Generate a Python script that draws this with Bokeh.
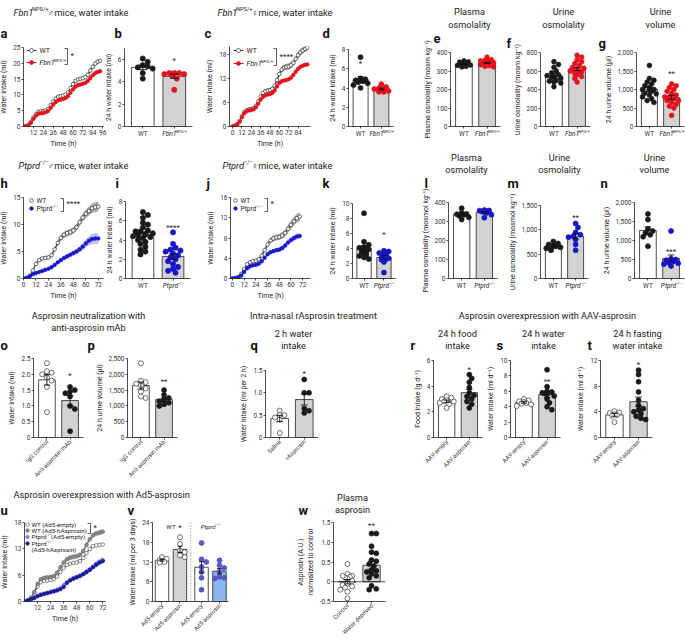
import math
import numpy as np
from bokeh.plotting import figure
from bokeh.models import GridBox, Range1d, Label, FixedTicker, Span, NumeralTickFormatter
from bokeh.embed import file_html
from bokeh.resources import INLINE

FONT = "Roboto"
W, H = 685, 640
BL, BT, BR, BB = 50, 30, 12, 60   # uniform borders (the grid aligns them anyway)

# ---------------- time-series data (cumulative water intake, ml) ----------------
T_A = list(range(0, 94, 3))
A_WT = [0, 0.1, 0.5, 1.5, 2.8, 3.9, 4.6, 4.8, 4.9, 5.1, 5.6, 6.8, 7.9, 8.8, 9.4, 9.6, 9.8, 10.1, 10.8, 12.2,
        13.4, 14.4, 14.9, 15.1, 15.3, 15.6, 16.4, 17.7, 18.9, 19.9, 20.5, 20.8]
A_WT_SEM = [0, 0.05, 0.1, 0.2, 0.3, 0.35, 0.4, 0.4, 0.4, 0.4, 0.45, 0.5, 0.5, 0.5, 0.5, 0.5, 0.5, 0.5, 0.55, 0.6,
            0.6, 0.6, 0.6, 0.6, 0.6, 0.6, 0.65, 0.7, 0.7, 0.7, 0.7, 0.7]
A_MUT = [0, 0.1, 0.4, 1.2, 2.4, 3.4, 4.0, 4.2, 4.3, 4.5, 4.9, 5.9, 6.9, 7.7, 8.3, 8.5, 8.7, 9.0, 9.6, 10.7,
         11.7, 12.6, 13.1, 13.3, 13.5, 13.8, 14.4, 15.3, 16.2, 16.9, 17.3, 17.5]
A_MUT_SEM = [0, 0.05, 0.1, 0.15, 0.25, 0.3, 0.35, 0.35, 0.35, 0.35, 0.4, 0.4, 0.45, 0.45, 0.45, 0.45, 0.45, 0.45,
             0.5, 0.5, 0.5, 0.55, 0.55, 0.55, 0.55, 0.55, 0.55, 0.6, 0.6, 0.6, 0.6, 0.6]

T_C = list(range(0, 97, 3))
C_WT = [0, 0.2, 0.6, 1.4, 2.6, 3.6, 4.1, 4.3, 4.4, 4.6, 5.2, 6.3, 7.5, 8.4, 8.8, 9.0, 9.1, 9.4, 10.2, 11.6,
        13.1, 14.2, 14.7, 14.9, 15.0, 15.3, 15.9, 16.9, 17.8, 18.5, 19.0, 19.4, 19.7]
C_WT_SEM = [0, 0.1, 0.15, 0.2, 0.3, 0.3, 0.35, 0.35, 0.35, 0.4, 0.4, 0.45, 0.5, 0.5, 0.5, 0.5, 0.5, 0.55, 0.6, 0.7,
            0.8, 0.8, 0.8, 0.8, 0.8, 0.8, 0.8, 0.8, 0.8, 0.8, 0.8, 0.8, 0.8]
C_MUT = [0, 0.2, 0.5, 1.2, 2.3, 3.3, 3.8, 4.0, 4.1, 4.3, 4.8, 5.7, 6.7, 7.4, 7.8, 8.0, 8.1, 8.4, 9.0, 10.0,
         10.9, 11.3, 11.5, 11.6, 11.8, 12.2, 12.9, 13.7, 14.4, 14.9, 15.2, 15.4, 15.5]
C_MUT_SEM = [0, 0.05, 0.1, 0.1, 0.15, 0.2, 0.2, 0.2, 0.2, 0.2, 0.2, 0.25, 0.25, 0.25, 0.25, 0.25, 0.25, 0.25,
             0.3, 0.3, 0.3, 0.3, 0.3, 0.3, 0.3, 0.3, 0.3, 0.35, 0.35, 0.35, 0.35, 0.35, 0.35]

T_H = list(range(0, 73, 3))
H_WT = [0, 0.1, 0.5, 1.5, 2.7, 3.4, 3.7, 3.8, 3.9, 4.3, 5.4, 6.6, 7.5, 8.1, 8.4, 8.6, 8.9, 9.5, 10.4, 11.3,
        12.0, 12.5, 13.0, 13.2, 13.3]
H_WT_SEM = [0, 0.05, 0.1, 0.2, 0.3, 0.3, 0.35, 0.35, 0.35, 0.4, 0.45, 0.5, 0.55, 0.6, 0.6, 0.6, 0.6, 0.65, 0.7,
            0.75, 0.8, 0.85, 0.9, 0.9, 0.9]
H_MUT = [0, 0.1, 0.4, 0.8, 1.0, 1.2, 1.4, 1.6, 1.8, 2.1, 2.5, 3.0, 3.4, 3.8, 4.1, 4.4, 4.7, 5.0, 5.4, 5.9,
         6.5, 7.0, 7.3, 7.4, 7.4]
H_MUT_SEM = [0, 0.05, 0.05, 0.1, 0.1, 0.15, 0.15, 0.15, 0.2, 0.2, 0.25, 0.3, 0.3, 0.35, 0.4, 0.4, 0.45, 0.5,
             0.55, 0.65, 0.75, 0.85, 0.95, 1.0, 1.0]

T_J = list(range(0, 70, 3))
J_WT = [0, 0.1, 0.3, 0.9, 1.9, 2.8, 3.2, 3.4, 3.5, 3.8, 4.5, 5.6, 6.7, 7.5, 7.9, 8.1, 8.2, 8.5, 9.0, 9.8,
        10.6, 11.3, 11.9, 12.2]
J_WT_SEM = [0, 0.05, 0.1, 0.15, 0.25, 0.3, 0.35, 0.35, 0.35, 0.4, 0.45, 0.5, 0.55, 0.6, 0.6, 0.6, 0.6, 0.65,
            0.7, 0.75, 0.8, 0.85, 0.9, 0.9]
J_MUT = [0, 0.1, 0.2, 0.6, 1.3, 2.0, 2.4, 2.6, 2.7, 2.9, 3.4, 4.1, 4.8, 5.2, 5.4, 5.6, 5.7, 6.0, 6.5, 7.1,
         7.6, 8.0, 8.3, 8.4]
J_MUT_SEM = [0, 0.05, 0.05, 0.1, 0.15, 0.2, 0.25, 0.25, 0.25, 0.3, 0.3, 0.35, 0.4, 0.4, 0.4, 0.4, 0.45, 0.45,
             0.5, 0.5, 0.55, 0.6, 0.6, 0.6]

T_U = list(range(0, 73, 3))
U_WT_EMPTY = [0, 0.3, 0.8, 1.9, 3.4, 4.4, 4.7, 4.8, 4.9, 5.1, 5.7, 6.7, 7.6, 8.3, 8.6, 8.8, 8.9, 9.2, 9.9, 11.0,
              12.0, 12.6, 12.8, 12.9, 13.0]
U_WT_EMPTY_SEM = [0, 0.05, 0.1, 0.15, 0.2, 0.25, 0.25, 0.25, 0.25, 0.25, 0.25, 0.3, 0.3, 0.3, 0.3, 0.3, 0.3, 0.3,
                  0.3, 0.35, 0.35, 0.35, 0.35, 0.35, 0.35]
U_WT_ASP = [0, 0.3, 0.9, 2.2, 4.0, 5.1, 5.4, 5.5, 5.6, 5.8, 6.6, 7.8, 8.9, 9.6, 10.0, 10.2, 10.3, 10.6, 11.5, 12.9,
            14.2, 15.1, 15.5, 15.7, 15.9]
U_WT_ASP_SEM = [0, 0.1, 0.15, 0.25, 0.35, 0.4, 0.4, 0.4, 0.4, 0.45, 0.45, 0.5, 0.5, 0.5, 0.55, 0.55, 0.55, 0.6,
                0.6, 0.6, 0.65, 0.65, 0.65, 0.65, 0.65]
U_KO_EMPTY = [0, 0.2, 0.5, 0.9, 1.3, 1.6, 1.8, 2.0, 2.2, 2.4, 2.7, 3.0, 3.8, 4.4, 4.9, 5.3, 5.6, 5.9, 6.3, 6.8,
              7.3, 7.9, 8.5, 9.0, 9.4]
U_KO_EMPTY_SEM = [0, 0.05, 0.1, 0.15, 0.2, 0.2, 0.25, 0.25, 0.25, 0.3, 0.3, 0.35, 0.35, 0.4, 0.45, 0.5, 0.5, 0.55,
                  0.6, 0.65, 0.7, 0.75, 0.8, 0.8, 0.8]
U_KO_ASP = [0, 0.2, 0.5, 0.8, 1.2, 1.5, 1.7, 1.9, 2.1, 2.3, 2.5, 2.8, 3.3, 4.2, 4.8, 5.2, 5.5, 5.8, 6.2, 6.7,
            7.2, 7.8, 8.4, 8.9, 9.2]
U_KO_ASP_SEM = [0, 0.05, 0.05, 0.1, 0.1, 0.15, 0.15, 0.15, 0.2, 0.2, 0.2, 0.25, 0.25, 0.3, 0.3, 0.3, 0.35, 0.35,
                0.35, 0.4, 0.4, 0.45, 0.45, 0.5, 0.5]

# ---------------- individual-animal data ----------------
B_WT = [6.1, 5.8, 5.5, 5.4, 5.3, 5.2, 4.8, 4.3]
B_MUT = [4.8, 4.8, 4.7, 4.7, 4.8, 4.6, 4.3, 3.3]
D_WT = [7.2, 5.0, 4.9, 4.8, 4.7, 4.6, 4.5, 4.3, 4.0]
D_MUT = [4.4, 4.1, 4.0, 3.9, 3.9, 3.8, 3.7, 3.6, 3.6]
E_WT = [355, 350, 348, 345, 343, 340, 340, 338, 336, 335, 334, 332, 330, 328, 325, 322, 340, 345]
E_MUT = [375, 362, 358, 355, 352, 350, 348, 345, 345, 342, 340, 340, 338, 335, 333, 330, 328, 325, 322, 350, 345, 342]
F_WT = [700, 670, 640, 600, 580, 560, 550, 540, 530, 520, 500, 490, 480, 470, 430]
F_MUT = [770, 750, 720, 700, 680, 660, 640, 630, 620, 610, 600, 600, 590, 580, 570, 560, 540, 520, 480]
G_WT = [1650, 1300, 1250, 1200, 1150, 1100, 1050, 1000, 1000, 980, 950, 900, 880, 850, 800, 750, 700, 650]
G_MUT = [1150, 1100, 1050, 1000, 950, 900, 850, 800, 800, 750, 700, 700, 650, 600, 550, 500, 300]
I_WT = [6.9, 6.6, 6.3, 5.8, 5.6, 5.3, 5.0, 4.9, 4.7, 4.5, 4.4, 4.3, 4.2, 4.0, 3.8, 3.6, 3.3, 3.0, 2.8, 2.5, 4.6, 4.9]
I_MUT = [4.8, 3.6, 3.2, 3.0, 2.8, 2.6, 2.4, 2.2, 2.0, 1.8, 1.5, 1.2, 1.0, 0.8, 0.6, 2.9]
K_WT = [8.7, 4.9, 4.5, 4.2, 4.0, 3.9, 3.8, 3.7, 3.6, 3.5, 3.4, 3.2, 3.0, 2.8, 2.6, 4.1, 3.9]
K_MUT = [3.7, 3.6, 3.4, 3.3, 3.2, 2.8, 2.7, 2.6, 2.5, 2.2, 0.8]
L_WT = [370, 345, 340, 338, 335, 330, 322, 310]
L_MUT = [360, 358, 357, 355, 353, 352, 350, 345, 335, 320]
M_WT = [760, 720, 700, 680, 660, 640, 620, 600, 580]
M_MUT = [1130, 1050, 950, 900, 870, 850, 800, 700, 580]
N_WT = [1700, 1550, 1300, 1250, 1200, 1150, 1100, 850]
N_MUT = [1250, 520, 500, 480, 450, 420, 400, 380, 330]
O_IGG = [2.35, 2.1, 2.05, 2.0, 1.9, 1.8, 1.6, 0.8]
O_MAB = [1.6, 1.5, 1.45, 1.4, 1.3, 1.0, 0.9, 0.2]
P_IGG = [2350, 1800, 1750, 1700, 1650, 1550, 1450, 1300, 1250]
P_MAB = [1500, 1350, 1250, 1200, 1150, 1100, 1050, 1000]
Q_SALINE = [0.6, 0.5, 0.5, 0.45, 0.4, 0.1]
Q_RASP = [1.3, 1.0, 1.0, 0.65, 0.6, 0.55]
R_EMPTY = [3.2, 3.1, 3.0, 2.9, 2.8, 2.8, 2.7, 2.6, 2.3]
R_ASP = [4.9, 4.6, 4.3, 3.9, 3.5, 3.3, 3.2, 3.0, 2.8, 2.6, 2.3]
S_EMPTY = [5.0, 4.8, 4.7, 4.6, 4.5, 4.4, 4.3, 4.1]
S_ASP = [8.8, 6.6, 6.0, 5.9, 5.8, 5.7, 5.6, 5.4, 5.0, 4.5, 4.0, 3.6]
TT_EMPTY = [4.1, 3.9, 3.8, 3.6, 3.5, 3.4, 2.4]
TT_ASP = [10.5, 9.8, 8.7, 7.1, 5.8, 5.0, 4.5, 4.3, 4.0, 3.7, 3.3, 3.0, 2.8]
V_WT_EMPTY = [13.5, 13.0, 12.5, 12.3, 12.0, 11.8]
V_WT_ASP = [19.5, 17.5, 15.5, 15.0, 14.0, 13.5]
V_KO_EMPTY = [17.8, 12.8, 12.0, 10.5, 9.0, 7.2, 3.6]
V_KO_ASP = [12.5, 11.0, 10.2, 9.0, 7.5, 7.0, 7.2]
W_CONTROL = [0.45, 0.2, 0.15, 0.12, 0.08, 0.02, -0.05, -0.08, -0.12, -0.15, -0.2, -0.25, -0.42, 0.1, 0.15]
W_DEPRIVED = [1.22, 1.22, 0.9, 0.75, 0.72, 0.55, 0.52, 0.45, 0.4, 0.3, 0.28, 0.25, 0.2, 0.15, 0.1, -0.1, -0.18, -0.2]

V_LABELS = ["Ad5-empty", "Ad5-asprosin", "Ad5-empty", "Ad5-asprosin"]

# ---------------- colours ----------------
BLACK = "#1a1a1a"
RED = "#e3121b"
BLUE = "#1616c8"
GREYBAR = "#d2d2d2"

panels = []
META = {}


def make_panel(box, xr, yr):
    x0, y0, x1, y1 = box
    p = figure(frame_width=x1 - x0, frame_height=y1 - y0,
               x_range=Range1d(*xr), y_range=Range1d(*yr),
               min_border_left=BL, min_border_right=BR, min_border_top=BT, min_border_bottom=BB,
               output_backend="svg", toolbar_location=None, tools="",
               background_fill_color=None, border_fill_color=None, outline_line_color=None)
    p.margin = (y0 - BT, 0, 0, x0 - BL)
    p.xgrid.visible = False
    p.ygrid.visible = False
    for ax in (p.xaxis[0], p.yaxis[0]):
        ax.axis_line_color = "#222"
        ax.axis_line_width = 0.8
        ax.major_tick_line_color = "#222"
        ax.major_tick_line_width = 0.8
        ax.major_tick_in = 0
        ax.major_tick_out = 2
        ax.minor_tick_line_color = None
        ax.major_label_text_font = FONT
        ax.major_label_text_font_size = "6.5px"
        ax.major_label_text_color = "#333"
        ax.major_label_standoff = 1
        ax.axis_label_text_font = FONT
        ax.axis_label_text_font_size = "7px"
        ax.axis_label_text_font_style = "normal"
        ax.axis_label_text_color = "#222"
        ax.axis_label_standoff = 2
    META[id(p)] = (box, xr, yr)
    panels.append(p)
    return p


def to_data(p, px, py):
    (x0, y0, x1, y1), xr, yr = META[id(p)]
    return (xr[0] + (px - x0) / (x1 - x0) * (xr[1] - xr[0]),
            yr[1] - (py - y0) / (y1 - y0) * (yr[1] - yr[0]))


def swarm(vals, ppx, ppy, d, maxhalf):
    vals = np.asarray(vals, float)
    order = np.argsort(-vals)
    placed = []
    offs = np.zeros(len(vals))
    cands = [0.0]
    for j in range(1, 14):
        cands += [j * d * 0.5, -j * d * 0.5]
    for i in order:
        y = vals[i] * ppy
        chosen = None
        for c in cands:
            if abs(c) > maxhalf:
                continue
            if all((c - px) ** 2 + (y - py) ** 2 >= (d * 0.85) ** 2 for px, py in placed):
                chosen = c
                break
        if chosen is None:
            chosen = cands[len(placed) % 3]
        placed.append((chosen, y))
        offs[i] = chosen / ppx
    return offs


def bar_panel(box, yr, yticks, xpos, groups, ylabel, xlabels, xlim=(-0.58, 1.58), bw=0.72,
              fmt=None, rotate=False, psize=5.2, capw=0.14):
    p = make_panel(box, xlim, yr)
    ppx = (box[2] - box[0]) / (xlim[1] - xlim[0])
    ppy = (box[3] - box[1]) / (yr[1] - yr[0])
    stats = []
    for x, g in zip(xpos, groups):
        v = np.asarray(g["vals"], float)
        m = v.mean()
        se = v.std(ddof=1) / math.sqrt(len(v))
        stats.append((m, se))
        p.vbar(x=[x], top=[m], bottom=[0], width=bw, fill_color=g["bar"], line_color="#222", line_width=0.8)
    for x, g in zip(xpos, groups):
        v = np.asarray(g["vals"], float)
        offs = swarm(v, ppx, ppy, psize * 0.95, bw * 0.48 * ppx)
        p.scatter(x=list(x + offs), y=list(v), size=psize, fill_color=g["fill"], line_color=g["line"],
                  line_width=0.7)
    for x, (m, se) in zip(xpos, stats):
        p.segment(x0=[x], y0=[m - se], x1=[x], y1=[m + se], line_color="#111", line_width=0.9)
        p.segment(x0=[x - capw, x - capw], y0=[m - se, m + se], x1=[x + capw, x + capw], y1=[m - se, m + se],
                  line_color="#111", line_width=0.9)
    p.xaxis.ticker = FixedTicker(ticks=list(xpos))
    p.xaxis.major_label_overrides = dict(zip(xpos, xlabels))
    p.yaxis.ticker = FixedTicker(ticks=yticks)
    p.yaxis.axis_label = ylabel
    if fmt is not None:
        p.yaxis.formatter = NumeralTickFormatter(format=fmt)
        if fmt == "0.0":
            p.yaxis.major_label_overrides = {0: "0"}
    if rotate:
        p.xaxis.major_label_orientation = math.pi / 4
        p.xaxis.major_label_text_font_size = "6px"
    return p


def star(p, x, y, s):
    p.add_layout(Label(x=x, y=y, text=s, text_align="center", text_baseline="middle", text_font=FONT,
                       text_font_size="8px", text_color="#222"))


def ts_panel(box, xr, yr, xticks, yticks, ylabel, series):
    p = make_panel(box, xr, yr)
    for t, m, s, c, fc, band, ba in series:
        lo = [a - b for a, b in zip(m, s)]
        hi = [a + b for a, b in zip(m, s)]
        p.varea(x=t, y1=lo, y2=hi, fill_color=band, fill_alpha=ba)
    for t, m, s, c, fc, band, ba in series:
        p.line(t, m, line_color=c, line_width=1)
        p.scatter(t, m, size=3.6, line_color=c, fill_color=fc, line_width=0.7)
    p.xaxis.ticker = FixedTicker(ticks=xticks)
    p.yaxis.ticker = FixedTicker(ticks=yticks)
    p.xaxis.axis_label = "Time (h)"
    p.yaxis.axis_label = ylabel
    return p


def swatch(p, px, py, color, fill, with_line=True, size=4):
    """legend sample drawn in a panel, positioned in page pixels"""
    if with_line:
        xa, ya = to_data(p, px - 5, py)
        xb, _ = to_data(p, px + 5, py)
        p.segment(x0=[xa], y0=[ya], x1=[xb], y1=[ya], line_color=color, line_width=1)
    xm, ym = to_data(p, px, py)
    p.scatter(x=[xm], y=[ym], size=size, fill_color=fill, line_color=color, line_width=0.7)


def bracket(p, px, ptop, pbot):
    xa, ya = to_data(p, px - 3, ptop)
    xb, yb = to_data(p, px, pbot)
    p.segment(x0=[xb, xa, xa], y0=[ya, ya, yb], x1=[xb, xb, xb], y1=[yb, ya, yb],
              line_color="#333", line_width=0.8)


def pagex(box, xlim, x):
    return box[0] + (x - xlim[0]) / (xlim[1] - xlim[0]) * (box[2] - box[0])


# ---------------- overlay for free text: not frame-aligned, its frame is the whole page ----------------
ov = figure(width=W, height=H, x_range=Range1d(0, W), y_range=Range1d(H, 0),
            min_border_left=0, min_border_right=0, min_border_top=0, min_border_bottom=0,
            frame_align=False,
            output_backend="svg", toolbar_location=None, tools="",
            background_fill_color=None, border_fill_color=None, outline_line_color=None,
            x_axis_type=None, y_axis_type=None)
ov.grid.visible = False


def T(x, y, s, size=9.0, align="left", style="normal", color="#222"):
    ov.add_layout(Label(x=x, y=y, text=s, text_font=FONT, text_font_size=f"{size}px", text_align=align,
                        text_baseline="middle", text_font_style=style, text_color=color))


def tw(s, size):
    w = 0.0
    for ch in s:
        if ch in "iljtf.,:;'|!I1 ()/-[]r":
            w += 0.30
        elif ch in "mwMW\u2642\u2640":
            w += 0.82
        elif ch.isupper():
            w += 0.64
        elif ch.isdigit():
            w += 0.56
        else:
            w += 0.53
    return w * size


def rich(x, y, parts, size, align="left"):
    ss = size * 0.62
    total = sum(tw(t, ss if k == "s" else size) for t, k in parts)
    if align == "center":
        x -= total / 2
    for t, k in parts:
        if k == "s":
            T(x, y - size * 0.35, t, ss)
            x += tw(t, ss)
        else:
            T(x, y, t, size, style="italic" if k == "i" else "normal")
            x += tw(t, size)


def letter(x, y, s):
    T(x, y, s, 13, style="bold", color="#111")


FBN = [("Fbn1", "i"), ("NPS/+", "s")]
PTP = [("Ptprd", "i"), ("\u2212/\u2212", "s")]

# ======================= ROW 1 =======================
BOX_A = (23, 47, 103, 126)
pa = ts_panel(BOX_A, (0, 97), (0, 25), [12, 24, 36, 48, 60, 72, 84, 96], [0, 5, 10, 15, 20, 25],
              "Water intake (ml)",
              [(T_A, A_WT, A_WT_SEM, "#333", "white", "#666", 0.55),
               (T_A, A_MUT, A_MUT_SEM, RED, RED, RED, 0.35)])

BOX_B = (124, 48, 192, 126)
pb = bar_panel(BOX_B, (0, 7), [0, 2, 4, 6], [0, 1],
               [dict(vals=B_WT, bar="white", fill=BLACK, line=BLACK),
                dict(vals=B_MUT, bar=GREYBAR, fill=RED, line=RED)],
               "24 h water intake (ml)", ["WT", ""])
star(pb, 1, 5.9, "*")

BOX_C = (229, 46, 310, 126)
pc = ts_panel(BOX_C, (-4, 100), (0, 20), [0, 12, 24, 36, 48, 60, 72, 84], [0, 6, 12, 18], "Water intake (ml)",
              [(T_C, C_WT, C_WT_SEM, "#333", "white", "#666", 0.55),
               (T_C, C_MUT, C_MUT_SEM, RED, RED, RED, 0.35)])

BOX_D = (348, 49, 393, 126)
pd_ = bar_panel(BOX_D, (0, 8), [0, 2, 4, 6, 8], [0, 1],
                [dict(vals=D_WT, bar="white", fill=BLACK, line=BLACK),
                 dict(vals=D_MUT, bar=GREYBAR, fill=RED, line=RED)],
                "24 h water intake (ml)", ["WT", ""], psize=5)
star(pd_, 0, 6.5, "*")

BOX_E = (450, 52, 500, 126)
bar_panel(BOX_E, (0, 400), [0, 100, 200, 300, 400], [0, 1],
          [dict(vals=E_WT, bar="white", fill=BLACK, line=BLACK),
           dict(vals=E_MUT, bar=GREYBAR, fill=RED, line=RED)],
          "Plasma osmolality (mosm kg\u207b\u00b9)", ["WT", ""], psize=4.6)

BOX_F = (540, 52, 590, 126)
pf = bar_panel(BOX_F, (0, 800), [0, 200, 400, 600, 800], [0, 1],
               [dict(vals=F_WT, bar="white", fill=BLACK, line=BLACK),
                dict(vals=F_MUT, bar=GREYBAR, fill=RED, line=RED)],
               "Urine osmolality (mosm kg\u207b\u00b9)", ["WT", ""], psize=4.8)
star(pf, 1, 805, "*")

BOX_G = (636, 52, 684, 126)
pg = bar_panel(BOX_G, (0, 2000), [0, 500, 1000, 1500, 2000], [0, 1],
               [dict(vals=G_WT, bar="white", fill=BLACK, line=BLACK),
                dict(vals=G_MUT, bar=GREYBAR, fill=RED, line=RED)],
               "24 h urine volume (\u00b5l)", ["WT", ""], fmt="0,0", psize=4.8)
star(pg, 1, 1420, "**")

# ======================= ROW 2 =======================
BOX_H = (23, 197, 103, 278)
ph = ts_panel(BOX_H, (0, 77), (0, 15), [0, 12, 24, 36, 48, 60, 72], [0, 5, 10, 15], "Water intake (ml)",
              [(T_H, H_WT, H_WT_SEM, "#333", "white", "#666", 0.55),
               (T_H, H_MUT, H_MUT_SEM, BLUE, BLUE, "#4a4aff", 0.35)])

BOX_I = (125, 201, 190, 278)
pi_ = bar_panel(BOX_I, (0, 8), [0, 2, 4, 6, 8], [0, 1],
                [dict(vals=I_WT, bar="white", fill=BLACK, line=BLACK),
                 dict(vals=I_MUT, bar=GREYBAR, fill=BLUE, line=BLUE)],
                "24 h water intake (ml)", ["WT", ""])
star(pi_, 1, 5.35, "****")

BOX_J = (230, 197, 310, 278)
pj = ts_panel(BOX_J, (-2, 80), (0, 16), [0, 12, 24, 36, 48, 60, 72], [0, 4, 8, 12, 16], "Water intake (ml)",
              [(T_J, J_WT, J_WT_SEM, "#333", "white", "#666", 0.55),
               (T_J, J_MUT, J_MUT_SEM, BLUE, BLUE, "#4a4aff", 0.35)])

BOX_K = (352, 203, 395, 278)
pk = bar_panel(BOX_K, (0, 10), [0, 2, 4, 6, 8, 10], [0, 1],
               [dict(vals=K_WT, bar="white", fill=BLACK, line=BLACK),
                dict(vals=K_MUT, bar=GREYBAR, fill=BLUE, line=BLUE)],
               "24 h water intake (ml)", ["WT", ""], psize=5)
star(pk, 1, 5.9, "*")

BOX_L = (448, 202, 497, 278)
bar_panel(BOX_L, (0, 400), [0, 100, 200, 300, 400], [0, 1],
          [dict(vals=L_WT, bar="white", fill=BLACK, line=BLACK),
           dict(vals=L_MUT, bar=GREYBAR, fill=BLUE, line=BLUE)],
          "Plasma osmolality (mosmol kg\u207b\u00b9)", ["WT", ""], psize=5)

BOX_M = (540, 205, 588, 278)
pm = bar_panel(BOX_M, (0, 1500), [0, 500, 1000, 1500], [0, 1],
               [dict(vals=M_WT, bar="white", fill=BLACK, line=BLACK),
                dict(vals=M_MUT, bar=GREYBAR, fill=BLUE, line=BLUE)],
               "Urine osmolality (mosmol kg\u207b\u00b9)", ["WT", ""], fmt="0,0", psize=5)
star(pm, 1, 1250, "**")

BOX_N = (634, 202, 684, 278)
pn = bar_panel(BOX_N, (0, 2000), [0, 500, 1000, 1500, 2000], [0, 1],
               [dict(vals=N_WT, bar="white", fill=BLACK, line=BLACK),
                dict(vals=N_MUT, bar=GREYBAR, fill=BLUE, line=BLUE)],
               "24 h urine volume (\u00b5l)", ["WT", ""], fmt="0,0", psize=5)
star(pn, 1, 700, "***")

# ======================= ROW 3 =======================
OPEN = dict(fill="white", line="#333")
FILLED = dict(fill=BLACK, line=BLACK)

BOX_O = (33, 358, 83, 437)
po = bar_panel(BOX_O, (0, 2.5), [0, 0.5, 1, 1.5, 2, 2.5], [0, 1],
               [dict(vals=O_IGG, bar="white", **OPEN), dict(vals=O_MAB, bar=GREYBAR, **FILLED)],
               "Water intake (ml)", ["IgG control", "Anti-asprosin mAb"], fmt="0.0", rotate=True, psize=5)
star(po, 1, 1.95, "*")

BOX_P = (127, 358, 177, 437)
pp = bar_panel(BOX_P, (0, 2500), [0, 500, 1000, 1500, 2000, 2500], [0, 1],
               [dict(vals=P_IGG, bar="white", **OPEN), dict(vals=P_MAB, bar=GREYBAR, **FILLED)],
               "24 h urine volume (\u00b5l)", ["IgG control", "Anti-asprosin mAb"], fmt="0,0", rotate=True, psize=5)
star(pp, 1, 1780, "**")

BOX_Q = (265, 370, 318, 437)
pq = bar_panel(BOX_Q, (0, 1.5), [0, 0.5, 1, 1.5], [0, 1],
               [dict(vals=Q_SALINE, bar="white", **OPEN), dict(vals=Q_RASP, bar=GREYBAR, **FILLED)],
               "Water intake (ml per 2 h)", ["Saline", "rAsprosin"], fmt="0.0", rotate=True, psize=5)
star(pq, 1, 1.44, "*")

BOX_R = (433, 360, 482, 437)
pr = bar_panel(BOX_R, (0, 6), [0, 2, 4, 6], [0, 1],
               [dict(vals=R_EMPTY, bar="white", **OPEN), dict(vals=R_ASP, bar=GREYBAR, **FILLED)],
               "Food intake (g d\u207b\u00b9)", ["AAV-empty", "AAV-asprosin"], rotate=True, psize=5)
star(pr, 1, 5.3, "*")

BOX_S = (510, 360, 560, 437)
ps = bar_panel(BOX_S, (0, 10), [0, 2, 4, 6, 8, 10], [0, 1],
               [dict(vals=S_EMPTY, bar="white", **OPEN), dict(vals=S_ASP, bar=GREYBAR, **FILLED)],
               "Water intake (ml d\u207b\u00b9)", ["AAV-empty", "AAV-asprosin"], rotate=True, psize=5)
star(ps, 1, 7.3, "**")

BOX_T = (600, 360, 652, 437)
pt = bar_panel(BOX_T, (0, 12), [0, 4, 8, 12], [0, 1],
               [dict(vals=TT_EMPTY, bar="white", **OPEN), dict(vals=TT_ASP, bar=GREYBAR, **FILLED)],
               "Water intake (ml d\u207b\u00b9)", ["AAV-empty", "AAV-asprosin"], rotate=True, psize=5)
star(pt, 1, 11.3, "*")

# ======================= ROW 4 =======================
BOX_U = (24, 522, 105, 601)
U_COLS = [("#555", "white", "#999", 0.5), ("#666", "#8c8c8c", "#aaa", 0.6),
          ("#7a7ae6", "#8c8cf0", "#a8a8f4", 0.55), ("#1a1a96", "#1a1a96", "#3c3cc8", 0.35)]
pu = ts_panel(BOX_U, (0, 74.5), (0, 18), [12, 24, 36, 48, 60, 72], [0, 6, 12, 18], "Water intake (ml)",
              [(T_U, U_WT_EMPTY, U_WT_EMPTY_SEM) + U_COLS[0],
               (T_U, U_WT_ASP, U_WT_ASP_SEM) + U_COLS[1],
               (T_U, U_KO_EMPTY, U_KO_EMPTY_SEM) + U_COLS[2],
               (T_U, U_KO_ASP, U_KO_ASP_SEM) + U_COLS[3]])

BOX_V = (152, 522, 228, 601)
VPOS = [0, 5, 11, 16]
pv = bar_panel(BOX_V, (0, 24), [0, 6, 12, 18, 24], VPOS,
               [dict(vals=V_WT_EMPTY, bar="white", **OPEN),
                dict(vals=V_WT_ASP, bar=GREYBAR, **OPEN),
                dict(vals=V_KO_EMPTY, bar="white", fill="#5656c4", line="#5656c4"),
                dict(vals=V_KO_ASP, bar="#8ab8ee", fill="#5656c4", line="#5656c4")],
               "Water intake (ml per 3 days)", V_LABELS, xlim=(-2.64, 18.5), bw=3.75, rotate=True,
               psize=5, capw=0.7)
pv.add_layout(Span(location=8, dimension="height", line_color="#777", line_dash="1 2", line_width=1))
star(pv, 5, 22.6, "*")

BOX_W = (333, 522, 385, 601)
pw = bar_panel(BOX_W, (-0.5, 1.5), [-0.5, 0, 0.5, 1, 1.5], [0, 1],
               [dict(vals=W_CONTROL, bar="white", **OPEN), dict(vals=W_DEPRIVED, bar=GREYBAR, **FILLED)],
               "Asprosin (A.U.)\nnormalized to control", ["Control", "Water deprived"], fmt="0.0",
               rotate=True, psize=5)
pw.add_layout(Span(location=0, dimension="width", line_color="#222", line_width=0.8))
star(pw, 1, 1.42, "**")

# ======================= LEGENDS (samples drawn inside their panels) =======================
LS = 7.0
swatch(pa, 31, 50, "#333", "white")
swatch(pa, 31, 62, RED, RED)
bracket(pa, 67, 48, 64)
swatch(pc, 238, 50, "#333", "white")
swatch(pc, 238, 63, RED, RED)
bracket(pc, 276, 48, 65)
for p_, x0 in [(ph, 31), (pj, 235)]:
    swatch(p_, x0, 200, "#333", "white", with_line=False, size=3.6)
    swatch(p_, x0, 208, BLUE, BLUE, with_line=False, size=3.6)
bracket(ph, 63, 198, 211)
bracket(pj, 267, 198, 211)
for k, yy in enumerate([524, 530, 536.5, 543]):
    swatch(pu, 27, yy, U_COLS[k][0], U_COLS[k][1], with_line=False, size=3.6)
bracket(pu, 90, 523, 533)

# ======================= TEXT OVERLAY =======================
TS = 9.2
rich(13, 12, [("Fbn1", "i"), ("NPS/+", "s"), ("\u2642mice, water intake", "n")], TS)
rich(217, 12, [("Fbn1", "i"), ("NPS/+", "s"), ("\u2640mice, water intake", "n")], TS)
for cx, l1, l2 in [(469, "Plasma", "osmolality"), (563, "Urine", "osmolality"), (660, "Urine", "volume")]:
    T(cx, 11, l1, TS, "center")
    T(cx, 24, l2, TS, "center")
rich(18, 165, [("Ptprd", "i"), ("\u2212/\u2212", "s"), ("\u2642mice, water intake", "n")], TS)
rich(222, 165, [("Ptprd", "i"), ("\u2212/\u2212", "s"), ("\u2640mice, water intake", "n")], TS)
for cx, l1, l2 in [(466, "Plasma", "osmolality"), (559, "Urine", "osmolality"), (654, "Urine", "volume")]:
    T(cx, 157, l1, TS, "center")
    T(cx, 169, l2, TS, "center")
T(88, 315, "Asprosin neutralization with", TS, "center")
T(88, 327, "anti-asprosin mAb", TS, "center")
T(313, 315, "Intra-nasal rAsprosin treatment", TS, "center")
T(547, 315, "Asprosin overexpression with AAV-asprosin", TS, "center")
for cx, l1, l2 in [(293, "2 h water", "intake"), (457, "24 h food", "intake"),
                   (543, "24 h water", "intake"), (637, "24 h fasting", "water intake")]:
    T(cx, 333, l1, TS, "center")
    T(cx, 345, l2, TS, "center")
T(13, 494, "Asprosin overexpression with Ad5-asprosin", TS)
T(352, 497, "Plasma", TS, "center")
T(352, 509, "asprosin", TS, "center")

for s, x, y in [("a", 0, 33), ("b", 114, 33), ("c", 204, 33), ("d", 322, 33), ("e", 433, 38), ("f", 506, 43),
                ("g", 598, 43), ("h", 0, 183), ("i", 115, 183), ("j", 206, 183), ("k", 322, 183),
                ("l", 424, 183), ("m", 507, 183), ("n", 600, 183), ("o", 0, 345), ("p", 87, 345),
                ("q", 250, 345), ("r", 410, 345), ("s", 496, 345), ("t", 587, 345), ("u", 0, 510),
                ("v", 127, 510), ("w", 298, 510)]:
    letter(x, y, s)

for box, parts in [(BOX_B, FBN), (BOX_D, FBN), (BOX_E, FBN), (BOX_F, FBN), (BOX_G, FBN),
                   (BOX_I, PTP), (BOX_K, PTP), (BOX_L, PTP), (BOX_M, PTP), (BOX_N, PTP)]:
    rich(pagex(box, (-0.58, 1.58), 1), box[3] + 7, parts, 6.5, "center")

T(39, 50, "WT", LS)
rich(39, 62, FBN, LS)
T(70, 55, "*", 8)
T(246, 50, "WT", LS)
rich(246, 63, FBN, LS)
T(279, 56, "****", 8)
for x0, bx, sig in [(31, 63, "****"), (235, 267, "*")]:
    T(x0 + 5, 200, "WT", 6.5)
    rich(x0 + 5, 208, [("Ptprd", "n"), ("\u2212/\u2212", "s")], 6.5)
    T(bx + 3, 203, sig, 8)
T(31, 524, "WT (Ad5-empty)", 6.2)
T(31, 530, "WT (Ad5-hAsprosin)", 6.2)
rich(31, 536.5, [("Ptprd", "n"), ("\u2212/\u2212", "s"), (" (Ad5-empty)", "n")], 6.2)
rich(31, 543, [("Ptprd", "n"), ("\u2212/\u2212", "s")], 6.2)
T(31, 549.5, "(Ad5-hAsprosin)", 6.2)
T(93, 527, "*", 8)
T(pagex(BOX_V, (-2.64, 18.5), 2.5), 526, "WT", 6.2, "center")
rich(pagex(BOX_V, (-2.64, 18.5), 13.5), 526, PTP, 6.2, "center")

layout = GridBox(children=[(p, 0, 0) for p in panels] + [(ov, 0, 0)])
open("out.html", "w").write(file_html(layout, INLINE, title="Asprosin figure"))
